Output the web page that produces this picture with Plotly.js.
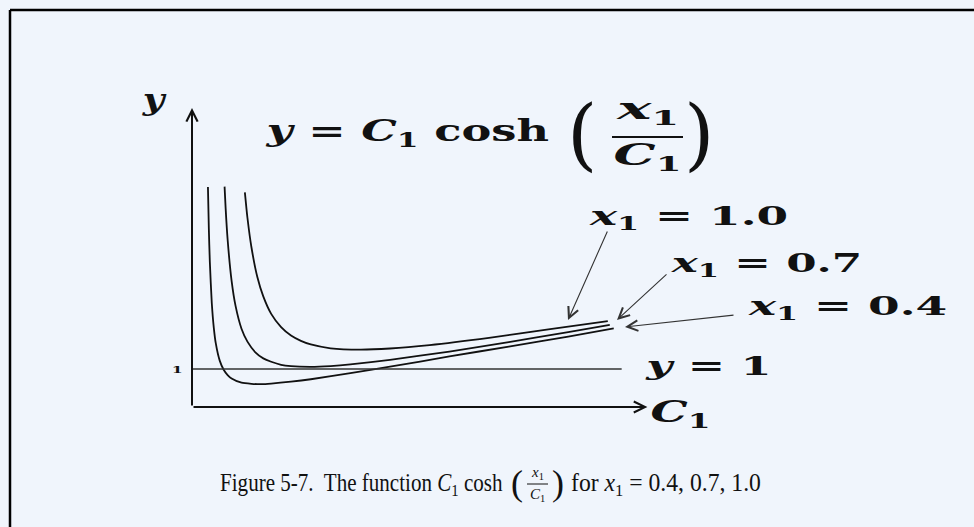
<!DOCTYPE html>
<html>
<head>
<meta charset="utf-8">
<script src="https://cdn.plot.ly/plotly-3.0.1.min.js"></script>
<style>
  html, body { margin: 0; padding: 0; background: #f0f5fc; }
  #chart { width: 974px; height: 527px; }
</style>
</head>
<body>
<div id="chart"></div>
<script>
// Curves y = C1 cosh(x1 / C1), sampled points (C1, y) for each x1
const c1_x04 = [0.0805, 0.085, 0.09, 0.10, 0.11, 0.12, 0.14, 0.16, 0.18, 0.20, 0.25, 0.30, 0.35, 0.40, 0.50, 0.60, 0.80, 1.00, 1.30, 1.60, 1.90, 2.13];
const y_x04  = [5.79, 4.70, 3.83, 2.73, 2.09, 1.68, 1.22, 0.98, 0.84, 0.75, 0.64, 0.61, 0.60, 0.615, 0.665, 0.73, 0.89, 1.06, 1.33, 1.59, 1.85, 2.07];

const c1_x07 = [0.1645, 0.17, 0.18, 0.20, 0.22, 0.25, 0.28, 0.32, 0.36, 0.40, 0.45, 0.50, 0.60, 0.70, 0.80, 1.00, 1.30, 1.60, 1.90, 2.11];
const y_x07  = [5.80, 5.22, 4.40, 3.32, 2.66, 2.06, 1.72, 1.44, 1.28, 1.19, 1.11, 1.075, 1.057, 1.078, 1.12, 1.24, 1.46, 1.71, 1.97, 2.16];

const c1_x10 = [0.267, 0.28, 0.30, 0.33, 0.36, 0.40, 0.45, 0.50, 0.55, 0.60, 0.70, 0.85, 1.00, 1.20, 1.50, 1.80, 2.10];
const y_x10  = [5.65, 4.98, 4.21, 3.42, 2.91, 2.45, 2.10, 1.88, 1.74, 1.645, 1.545, 1.51, 1.54, 1.63, 1.82, 2.04, 2.26];

// Reference line y = 1
const c1_ref = [0, 2.17];
const y_ref  = [1, 1];

// Axis extents (ends of the arrows)
const xAxisEnd = 2.30;
const yAxisEnd = 7.87;

// Labels
const curveLabels = ['<i>x</i><sub>1</sub> = 1.0', '<i>x</i><sub>1</sub> = 0.7', '<i>x</i><sub>1</sub> = 0.4'];
const tickLabel = '1';

const W = 974, H = 527;
const px = x => x / W;
const py = y => 1 - y / H;

const BG = '#f0f5fc';
const INK = '#111111';
const mathFont = (size) => ({ family: 'DejaVu Serif', size: size, color: INK, weight: 'bold' });
const capFont = (size) => ({ family: 'Liberation Serif', size: size, color: INK });

const lineStyle = { color: INK, width: 1.8, shape: 'spline', smoothing: 0.6 };

const traces = [
  { x: c1_x04, y: y_x04, mode: 'lines', line: lineStyle, hoverinfo: 'skip' },
  { x: c1_x07, y: y_x07, mode: 'lines', line: lineStyle, hoverinfo: 'skip' },
  { x: c1_x10, y: y_x10, mode: 'lines', line: lineStyle, hoverinfo: 'skip' },
  { x: c1_ref, y: y_ref, mode: 'lines', line: { color: '#333333', width: 1.3 }, hoverinfo: 'skip' }
];

// Each text item: [text, xPixel, yPixel, font, xanchor, fitWidth (px, null = natural)]
const texts = [
  ['<i>y</i>', 154, 100, mathFont(30), 'center', 26],
  ['<i>y</i> = <i>C</i><sub>1</sub> cosh', 263, 133, mathFont(29), 'left', 284],
  ['(', 582, 134, { family: 'DejaVu Serif', size: 78, color: INK }, 'center', null],
  ['<i>x</i><sub>1</sub>', 647, 111, mathFont(29), 'center', 64],
  ['<i>C</i><sub>1</sub>', 647, 157, mathFont(29), 'center', 68],
  [')', 699, 134, { family: 'DejaVu Serif', size: 78, color: INK }, 'center', null],
  [curveLabels[0], 688, 218, mathFont(26), 'center', 200],
  [curveLabels[1], 766, 264, mathFont(26), 'center', 192],
  [curveLabels[2], 847, 307, mathFont(26), 'center', 200],
  ['<i>y</i> = 1', 708, 366, mathFont(26), 'center', 127],
  ['<i>C</i><sub>1</sub>', 680, 414, mathFont(29), 'center', 60],
  [tickLabel, 177, 370, mathFont(9), 'center', 11],
  ['Figure 5-7.  The function <i>C</i><sub>1</sub> cosh', 218, 484, capFont(25), 'left', 283],
  ['(', 517, 483, capFont(36), 'center', null],
  ['<i>x</i><sub>1</sub>', 537, 473, capFont(15), 'center', null],
  ['<i>C</i><sub>1</sub>', 537, 495, capFont(15), 'center', null],
  [')', 558, 483, capFont(36), 'center', null],
  ['for <i>x</i><sub>1</sub> = 0.4, 0.7, 1.0', 569, 484, capFont(25), 'left', 190]
];

const annotations = texts.map(t => ({
  text: t[0], x: px(t[1]), y: py(t[2]), xref: 'paper', yref: 'paper',
  xanchor: t[4], yanchor: 'middle', showarrow: false, font: t[3]
}));

// Pointer arrows from curve labels: [tipX, tipY, tailX, tailY] in pixels
const pointers = [
  [568, 320, 608, 230],
  [617, 320, 668, 273],
  [625, 327, 735, 315]
];
pointers.forEach(p => annotations.push({
  text: '', x: px(p[0]), y: py(p[1]), xref: 'paper', yref: 'paper',
  ax: p[2] - p[0], ay: p[3] - p[1], showarrow: true,
  arrowhead: 5, arrowsize: 1.9, arrowwidth: 1.1, arrowcolor: '#333333', standoff: 0
}));

// Coordinate axes with arrow heads
annotations.push({
  text: '', x: 0, y: yAxisEnd, ax: 0, ay: 0, xref: 'x', yref: 'y', axref: 'x', ayref: 'y',
  showarrow: true, arrowhead: 5, arrowsize: 1.1, arrowwidth: 2, arrowcolor: INK, standoff: 0
});
annotations.push({
  text: '', x: xAxisEnd, y: 0, ax: 0, ay: 0, xref: 'x', yref: 'y', axref: 'x', ayref: 'y',
  showarrow: true, arrowhead: 5, arrowsize: 1.1, arrowwidth: 2, arrowcolor: INK, standoff: 0
});

// Data scale: C1 = 0 at x pixel 192 (198 px per unit), y = 0 at y pixel 407 (38 px per unit)
const xr = [-192 / 198, (W - 192) / 198];
const yr = [-(H - 407) / 38, 407 / 38];

const shapes = [
  // outer frame (top and left edges)
  { type: 'line', xref: 'paper', yref: 'paper', x0: px(10), y0: py(10), x1: px(W + 5), y1: py(10), line: { color: '#000', width: 2.5 } },
  { type: 'line', xref: 'paper', yref: 'paper', x0: px(10), y0: py(10), x1: px(10), y1: py(H + 5), line: { color: '#000', width: 2.5 } },
  // fraction bars
  { type: 'line', xref: 'paper', yref: 'paper', x0: px(612), y0: py(137), x1: px(683), y1: py(137), line: { color: INK, width: 2 } },
  { type: 'line', xref: 'paper', yref: 'paper', x0: px(527), y0: py(484), x1: px(548), y1: py(484), line: { color: INK, width: 1 } }
];

const layout = {
  width: W, height: H,
  margin: { l: 0, r: 0, t: 0, b: 0 },
  paper_bgcolor: BG, plot_bgcolor: BG,
  showlegend: false,
  xaxis: { range: xr, visible: false, fixedrange: true },
  yaxis: { range: yr, visible: false, fixedrange: true },
  annotations: annotations,
  shapes: shapes
};

Plotly.newPlot('chart', traces, layout, { staticPlot: true, displayModeBar: false }).then(gd => {
  // set the math labels and caption pieces to their widths
  texts.forEach((t, i) => {
    if (!t[5]) return;
    const el = gd.querySelector('.annotation[data-index="' + i + '"] text.annotation-text');
    if (!el) return;
    const bb = el.getBBox();
    if (!bb.width) return;
    const s = t[5] / bb.width;
    const cx = t[4] === 'left' ? bb.x : bb.x + bb.width / 2;
    el.setAttribute('transform', 'translate(' + cx + ',0) scale(' + s + ',1) translate(' + (-cx) + ',0)');
  });
});
</script>
</body>
</html>
